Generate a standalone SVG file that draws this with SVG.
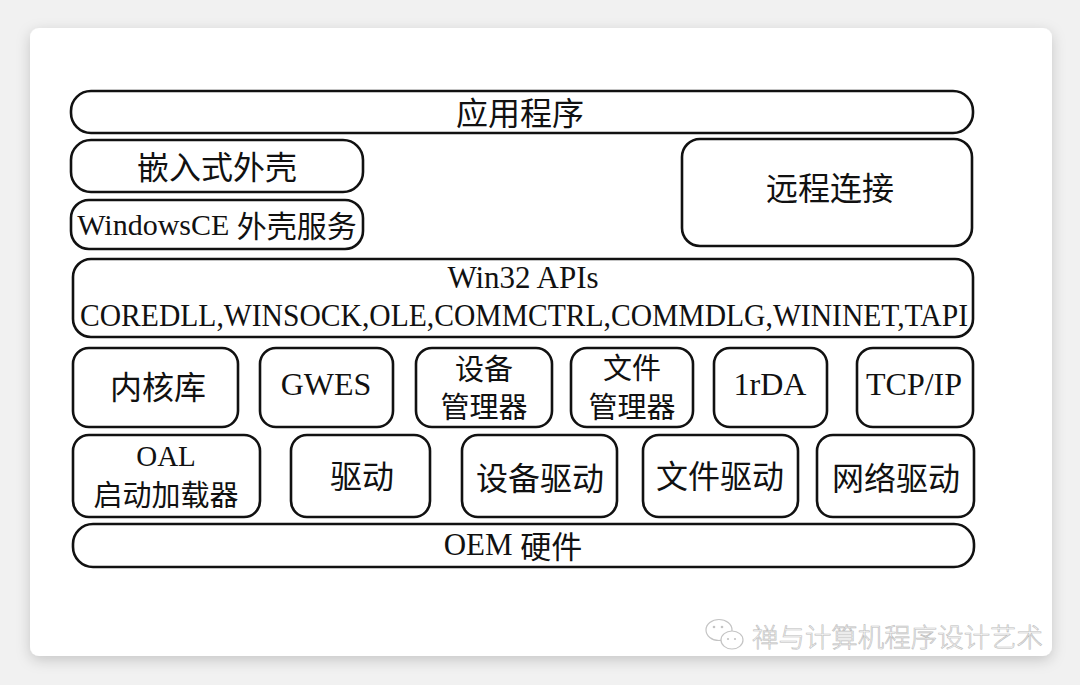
<svg xmlns="http://www.w3.org/2000/svg" width="1080" height="685" viewBox="0 0 1080 685">
<defs>
<filter id="sh" x="-5%" y="-5%" width="110%" height="112%">
<feDropShadow dx="0" dy="4" stdDeviation="7" flood-color="#000" flood-opacity="0.18"/>
</filter>
<style>
.b{fill:#fff;stroke:#111;stroke-width:2.6}
.t{font-family:"Liberation Serif","Noto Sans CJK SC",serif;font-size:31px;fill:#111;text-anchor:middle;dominant-baseline:central}
.c{font-family:"Noto Sans CJK SC",sans-serif;font-size:32px;font-weight:400}
.s{font-size:29px}
.l{font-size:32px}
.wm{font-family:"Noto Sans CJK SC",sans-serif;font-size:26px;font-weight:300;fill:#fafafa;stroke:#bcbcbc;stroke-width:0.6;dominant-baseline:central}
</style>
</defs>
<rect x="0" y="0" width="1080" height="685" fill="#f1f1f1"/>
<rect x="30" y="28" width="1022" height="628" rx="9" fill="#fff" filter="url(#sh)"/>

<g id="app"><rect class="b" x="71" y="91" width="902" height="42" rx="20"/><text class="t c" x="520" y="111">应用程序</text></g>
<g id="shell"><rect class="b" x="71" y="140" width="292" height="52" rx="20"/><text class="t c" x="217" y="165">嵌入式外壳</text></g>
<g id="ceshell"><rect class="b" x="71" y="200" width="292" height="49" rx="18"/><text class="t" x="217" y="224" style="font-size:30px">WindowsCE <tspan class="c" style="font-size:30px">外壳服务</tspan></text></g>
<g id="remote"><rect class="b" x="682" y="139" width="290" height="107" rx="18"/><text class="t c" x="830" y="186">远程连接</text></g>
<g id="win32"><rect class="b" x="73" y="259" width="900" height="78" rx="18"/>
<text class="t" x="523" y="277">Win32 APIs</text>
<text class="t" x="524" y="315" textLength="888" lengthAdjust="spacingAndGlyphs">COREDLL,WINSOCK,OLE,COMMCTRL,COMMDLG,WININET,TAPI</text></g>

<g id="kernel"><rect class="b" x="73" y="348" width="165" height="79" rx="16"/><text class="t c" x="158" y="385">内核库</text></g>
<g id="gwes"><rect class="b" x="260" y="348" width="133" height="79" rx="16"/><text class="t l" x="326" y="384">GWES</text></g>
<g id="devmgr"><rect class="b" x="416" y="348" width="136" height="79" rx="16"/><text class="t c s" x="484" y="367">设备</text><text class="t c s" x="484" y="405">管理器</text></g>
<g id="filemgr"><rect class="b" x="571" y="348" width="122" height="79" rx="16"/><text class="t c s" x="632" y="366">文件</text><text class="t c s" x="632" y="405">管理器</text></g>
<g id="irda"><rect class="b" x="714" y="348" width="113" height="79" rx="16"/><text class="t l" x="770" y="384">1rDA</text></g>
<g id="tcpip"><rect class="b" x="857" y="348" width="116" height="79" rx="16"/><text class="t l" x="914" y="384">TCP/IP</text></g>

<g id="oal"><rect class="b" x="73" y="435" width="187" height="82" rx="16"/><text class="t s" x="166" y="456">OAL</text><text class="t c s" x="166" y="493">启动加载器</text></g>
<g id="drv"><rect class="b" x="291" y="435" width="139" height="82" rx="16"/><text class="t c" x="362" y="474">驱动</text></g>
<g id="devdrv"><rect class="b" x="462" y="435" width="155" height="82" rx="16"/><text class="t c" x="540" y="476">设备驱动</text></g>
<g id="filedrv"><rect class="b" x="643" y="435" width="155" height="82" rx="16"/><text class="t c" x="720" y="474">文件驱动</text></g>
<g id="netdrv"><rect class="b" x="817" y="435" width="157" height="82" rx="16"/><text class="t c" x="896" y="476">网络驱动</text></g>

<g id="oem"><rect class="b" x="73" y="524" width="901" height="43" rx="20"/><text class="t" x="513" y="544">OEM <tspan class="c" style="font-size:31px">硬件</tspan></text></g>

<g id="watermark">
<ellipse cx="719" cy="630" rx="13" ry="10.5" fill="#fff" stroke="#c4c4c4" stroke-width="1.2"/>
<ellipse cx="732" cy="640" rx="11" ry="9" fill="#fff" stroke="#c4c4c4" stroke-width="1.2"/>
<circle cx="714" cy="627" r="1.3" fill="#c4c4c4"/><circle cx="722" cy="627" r="1.3" fill="#c4c4c4"/>
<circle cx="728" cy="639" r="1.1" fill="#c4c4c4"/><circle cx="735" cy="639" r="1.1" fill="#c4c4c4"/>
<text class="wm" x="752" y="635" textLength="291" lengthAdjust="spacingAndGlyphs">禅与计算机程序设计艺术</text>
</g>
</svg>
